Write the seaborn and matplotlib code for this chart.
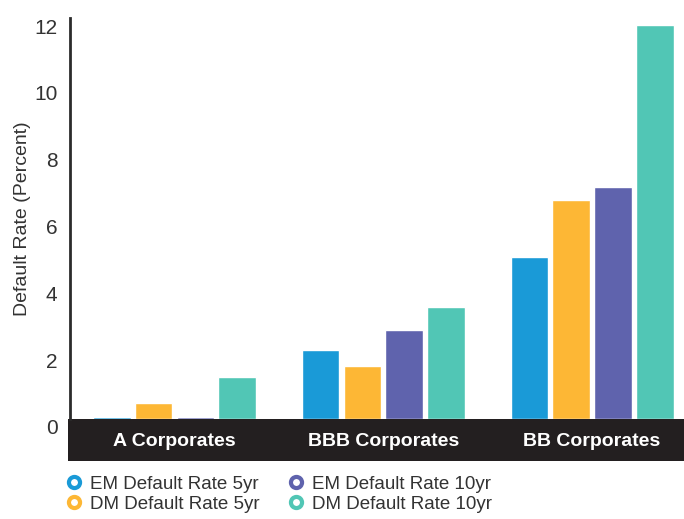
import pandas as pd
import matplotlib.pyplot as plt
import matplotlib.transforms as mtransforms
from matplotlib.lines import Line2D
from matplotlib.patches import Rectangle
import seaborn as sns

categories = ["A Corporates", "BBB Corporates", "BB Corporates"]
series = ["EM Default Rate 5yr", "DM Default Rate 5yr",
          "EM Default Rate 10yr", "DM Default Rate 10yr"]
em_5yr = [0.05, 2.05, 4.85]
dm_5yr = [0.48, 1.6, 6.55]
em_10yr = [0.05, 2.65, 6.95]
dm_10yr = [1.25, 3.35, 11.8]
colors = ["#1A9AD7", "#FDB735", "#5F63AD", "#51C6B5"]

rows = []
for name, vals in zip(series, [em_5yr, dm_5yr, em_10yr, dm_10yr]):
    for cat, v in zip(categories, vals):
        rows.append({"category": cat, "series": name, "value": v})
df = pd.DataFrame(rows)

sns.set_theme(style="white")
plt.rcParams["font.family"] = ["Liberation Sans", "DejaVu Sans"]

W, H = 684, 519
fig = plt.figure(figsize=(W / 100, H / 100), dpi=100)

# black band behind category labels
band = Rectangle((68 / W, (H - 461) / H), 1 - 68 / W, 42 / H,
                 transform=fig.transFigure, facecolor="#231F20",
                 edgecolor="none", zorder=0)
fig.patches.append(band)

ax = fig.add_axes([70 / W, (H - 419) / H, (W - 70) / W, (419 - 18) / H])
ax.set_zorder(2)
ax.patch.set_alpha(0)

sns.barplot(data=df, x="category", y="value", hue="series",
            order=categories, hue_order=series, palette=colors,
            width=0.8, gap=0.1, saturation=1, legend=False, ax=ax)

ax.set_ylim(0, 12)
ax.set_xlim(-0.5, 2.44)
ax.set_yticks(range(0, 13, 2))
ax.set_xlabel("")
ax.set_ylabel("Default Rate (Percent)", fontsize=14, color="#333333", labelpad=2)

for s in ["top", "right", "bottom"]:
    ax.spines[s].set_visible(False)
ax.spines["left"].set_color("#2b2b2b")
ax.spines["left"].set_linewidth(2)

ax.tick_params(axis="y", length=0, pad=9, labelsize=15, labelcolor="#333333")
ax.tick_params(axis="x", length=0, pad=10, labelsize=14, labelcolor="white")
for lbl in ax.get_xticklabels():
    lbl.set_fontweight("bold")
offset = mtransforms.ScaledTranslation(0, -8 / 100, fig.dpi_scale_trans)
for lbl in ax.get_yticklabels():
    lbl.set_transform(lbl.get_transform() + offset)

handles = [Line2D([], [], linestyle="none", marker="o", markersize=8,
                  markerfacecolor="white", markeredgecolor=c,
                  markeredgewidth=3) for c in colors]
fig.legend(handles, series, ncol=2, loc="upper left",
           bbox_to_anchor=(50 / W, (H - 459) / H), frameon=False,
           fontsize=13.5, handlelength=0.8, handletextpad=0.45,
           columnspacing=1.5, labelspacing=0.15, labelcolor="#333333")

fig.savefig("out.png", dpi=100)
